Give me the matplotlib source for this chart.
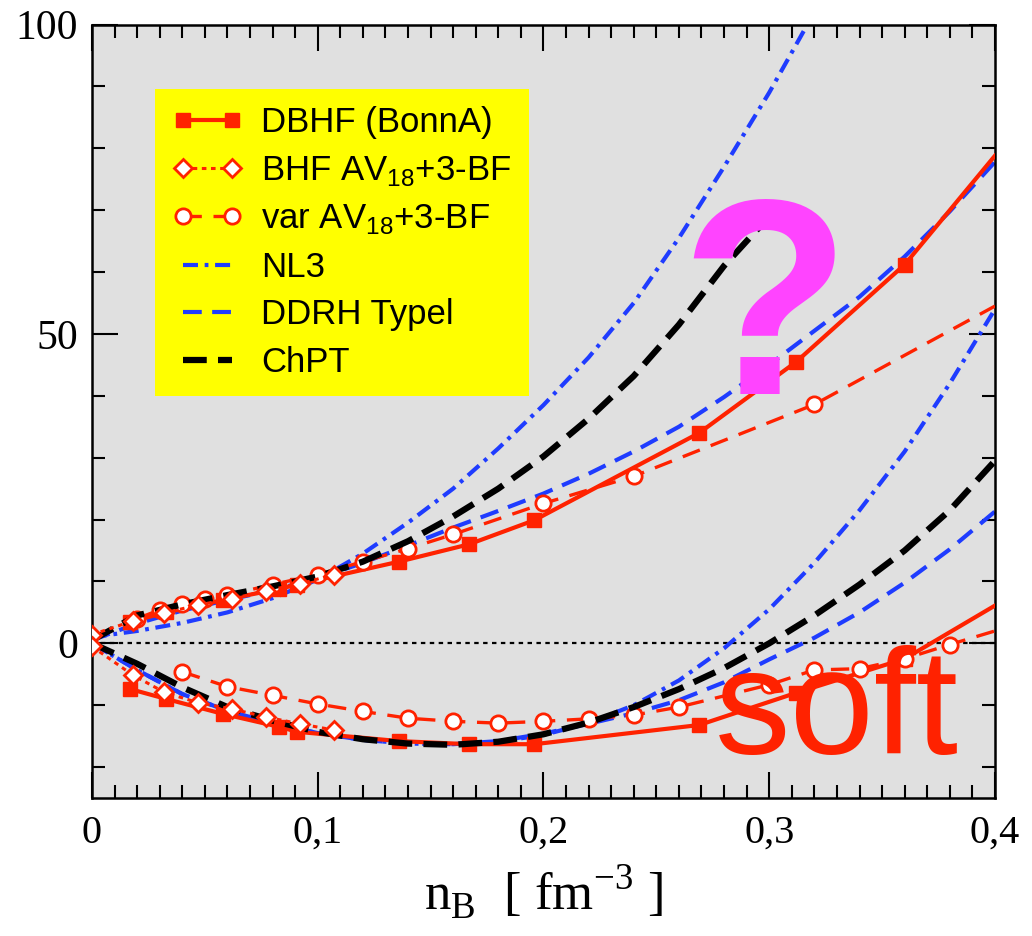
import numpy as np
import matplotlib
matplotlib.use('Agg')
import matplotlib.pyplot as plt
from matplotlib.ticker import MultipleLocator

# --- Data ---
# DBHF (BonnA): neutron matter (upper) and symmetric matter (lower)
dbhf_n = [0.017, 0.033, 0.058, 0.083, 0.091, 0.136, 0.167, 0.196, 0.269, 0.312, 0.360, 0.400]
dbhf_neutron = [3.5, 5.0, 7.0, 8.8, 9.5, 13.2, 16.0, 19.9, 34.0, 45.5, 61.2, 78.8]
dbhf_sym = [-7.4, -9.0, -11.4, -13.5, -14.3, -15.8, -16.3, -16.3, -13.2, -8.0, -2.5, 6.1]

# BHF AV18 + 3-BF
bhf_n = [0.0, 0.018, 0.032, 0.047, 0.062, 0.077, 0.092, 0.107]
bhf_neutron = [1.4, 3.6, 4.9, 6.2, 7.2, 8.5, 9.6, 11.1]
bhf_sym = [-0.5, -5.1, -7.9, -9.6, -10.6, -11.9, -13.0, -14.0]

# variational AV18 + 3-BF
var_n_neutron = [0.02, 0.03, 0.04, 0.05, 0.06, 0.08, 0.10, 0.12, 0.14, 0.16, 0.20, 0.24, 0.32, 0.40]
var_neutron = [4.0, 5.4, 6.4, 7.2, 7.8, 9.5, 11.1, 13.2, 15.3, 17.6, 22.6, 27.0, 38.6, 54.5]
var_n_sym = [0.04, 0.06, 0.08, 0.10, 0.12, 0.14, 0.16, 0.18, 0.20, 0.22, 0.24, 0.26,
             0.30, 0.32, 0.34, 0.36, 0.38, 0.40]
var_sym = [-4.6, -7.0, -8.4, -9.8, -11.0, -12.1, -12.6, -12.9, -12.6, -12.2, -11.6, -10.3,
           -6.7, -4.3, -4.1, -2.5, -0.2, 2.0]

# model curves on a common density grid
grid = [0.00, 0.02, 0.04, 0.06, 0.08, 0.10, 0.12, 0.14, 0.16, 0.18, 0.20,
        0.22, 0.24, 0.26, 0.28, 0.30, 0.32, 0.34, 0.36, 0.38, 0.40]

nl3_neutron = [1.0, 2.0, 3.3, 5.0, 7.3, 10.3, 14.5, 19.5, 25.0, 31.5, 38.5,
               46.2, 55.0, 65.5, 77.0, 89.0, 102.0]
nl3_sym = [0.0, -4.3, -8.2, -10.9, -12.9, -14.5, -15.6, -16.2, -16.3, -15.9, -14.8,
           -12.9, -10.0, -6.0, -0.8, 5.5, 13.0, 21.5, 31.0, 42.0, 54.0]

ddrh_neutron = [0.5, 3.2, 5.3, 7.0, 8.6, 10.5, 13.0, 15.8, 18.7, 21.4, 24.2,
                27.4, 31.0, 35.0, 39.8, 45.0, 50.5, 56.0, 62.5, 69.8, 77.8]
ddrh_sym = [0.0, -4.3, -8.2, -10.9, -12.9, -14.5, -15.6, -16.2, -16.3, -15.8, -14.6,
            -13.0, -11.3, -9.2, -6.3, -2.6, 0.9, 5.0, 9.8, 15.2, 21.3]

chpt_neutron = [0.5, 4.5, 6.3, 7.8, 9.2, 10.8, 13.2, 16.5, 20.5, 25.0, 30.2,
                36.3, 43.2, 51.5, 61.0, 69.0]
chpt_sym = [0.0, -3.3, -7.1, -10.3, -12.5, -14.3, -15.5, -16.2, -16.4, -15.9, -14.7,
            -12.8, -10.3, -7.4, -4.0, 0.0, 4.5, 9.5, 15.0, 21.5, 29.5]

x_ticks = [0.0, 0.1, 0.2, 0.3, 0.4]
x_ticklabels = ["0", "0,1", "0,2", "0,3", "0,4"]
y_ticks = [0, 50, 100]
y_ticklabels = ["0", "50", "100"]

# --- Style ---
RED = '#ff2200'
BLUE = '#1f3cff'
MAGENTA = '#ff44ff'
SERIF = 'Liberation Serif'
SANS = 'Liberation Sans'

plt.rcParams['font.family'] = SANS
plt.rcParams['mathtext.fontset'] = 'custom'
plt.rcParams['mathtext.rm'] = SANS

fig = plt.figure(figsize=(10.32, 9.36), dpi=100)
ax = fig.add_axes([0.0891, 0.1474, 0.8750, 0.8264])
ax.set_facecolor('#e0e0e0')

ax.axhline(0, color='black', lw=1.6, ls=(0, (2, 2)), zorder=1)

nl3_style = dict(color=BLUE, lw=3.0, dashes=(3.6, 1.6, 0.9, 1.6))
ddrh_style = dict(color=BLUE, lw=3.0, dashes=(4.5, 2.5))
chpt_style = dict(color='black', lw=4.5, dashes=(3.8, 1.8))

ax.plot(grid[:len(nl3_neutron)], nl3_neutron, label='NL3', zorder=2, **nl3_style)
ax.plot(grid, nl3_sym, zorder=2, **nl3_style)
ax.plot(grid, ddrh_neutron, label='DDRH Typel', zorder=2, **ddrh_style)
ax.plot(grid, ddrh_sym, zorder=2, **ddrh_style)

sq = dict(color=RED, lw=3.0, marker='s', ms=10.5, mfc=RED, mec=RED,
          markevery=slice(0, -1))
ax.plot(dbhf_n, dbhf_neutron, label='DBHF (BonnA)', zorder=3, **sq)
ax.plot(dbhf_n, dbhf_sym, zorder=3, **sq)

circ = dict(color=RED, lw=2.4, dashes=(5.5, 3.5), marker='o', ms=11, mfc='white',
            mec=RED, mew=2.0)
ax.plot(var_n_neutron, var_neutron, label=r'var AV$_\mathregular{18}$+3-BF',
        markevery=slice(0, -1), zorder=3, **circ)
ax.plot(var_n_sym, var_sym, markevery=slice(0, -1), zorder=3, **circ)

ax.plot(grid[:len(chpt_neutron)], chpt_neutron, label='ChPT', zorder=4, **chpt_style)
ax.plot(grid, chpt_sym, zorder=4, **chpt_style)

dia = dict(color=RED, lw=2.2, dashes=(1.5, 1.5), marker='D', ms=9, mfc='white',
           mec=RED, mew=2.0)
ax.plot(bhf_n, bhf_neutron, label=r'BHF AV$_\mathregular{18}$+3-BF', zorder=5, **dia)
ax.plot(bhf_n, bhf_sym, zorder=5, **dia)

# annotations
ax.text(0.298, 40.3, '?', fontsize=200, fontweight='bold', color=MAGENTA,
        ha='center', va='baseline', zorder=6)
ax.text(0.276, -17.9, 'soft', fontsize=109, color=RED,
        ha='left', va='baseline', zorder=6)

# --- Axes ---
ax.set_xlim(0, 0.4)
ax.set_ylim(-25, 100)
ax.set_xticks(x_ticks)
ax.set_xticklabels(x_ticklabels, fontfamily=SERIF, fontsize=29)
ax.set_yticks(y_ticks)
ax.set_yticklabels(y_ticklabels, fontfamily=SERIF, fontsize=30)
ax.xaxis.set_minor_locator(MultipleLocator(0.01))
ax.yaxis.set_minor_locator(MultipleLocator(10))
ax.tick_params(which='both', direction='in', top=True, right=True, width=1.5)
ax.tick_params(which='major', length=19)
ax.tick_params(which='minor', length=9.5)
ax.tick_params(axis='x', pad=12)
ax.tick_params(axis='y', pad=10)
for s in ax.spines.values():
    s.set_linewidth(1.8)

ax.set_xlabel(r'n$_\mathregular{B}$  [ fm$^\mathregular{-3}$ ]', fontfamily=SERIF,
              fontsize=38, labelpad=8)

# legend
h, l = ax.get_legend_handles_labels()
order = ['DBHF (BonnA)', r'BHF AV$_\mathregular{18}$+3-BF', r'var AV$_\mathregular{18}$+3-BF',
         'NL3', 'DDRH Typel', 'ChPT']
hl = dict(zip(l, h))
leg = ax.legend([hl[k] for k in order], order, loc='upper left',
                bbox_to_anchor=(0.070, 0.917), fontsize=25, numpoints=2,
                handlelength=2.0, handletextpad=0.55, labelspacing=0.42,
                borderpad=0.5, borderaxespad=0, fancybox=False,
                facecolor='#ffff00', edgecolor='none', framealpha=1)
leg.set_zorder(10)

fig.savefig('out.png', dpi=100)
